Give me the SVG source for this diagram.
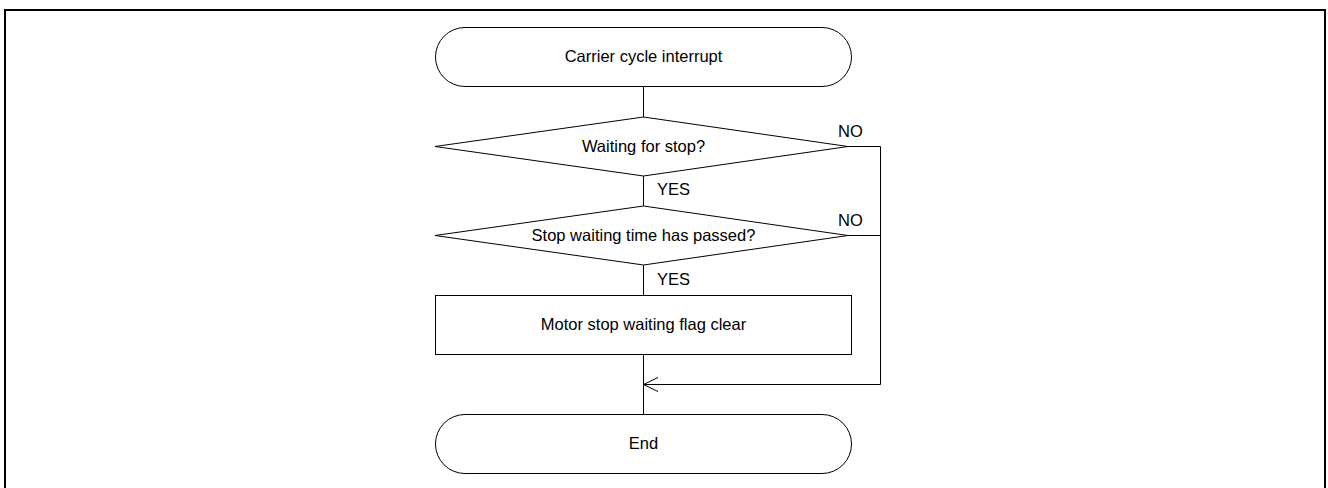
<svg xmlns="http://www.w3.org/2000/svg" width="1328" height="488" viewBox="0 0 1328 488">
<style>
.s{fill:#fff;stroke:#000;stroke-width:1}
.t{font-family:"Liberation Sans",Arial,sans-serif;font-size:16.5px;fill:#000}
.m{text-anchor:middle}
.c{fill:none;stroke:#000;stroke-width:1}
</style>
<rect x="0" y="0" width="1328" height="488" fill="#fff"/>
<rect x="5" y="10" width="1320" height="490" fill="none" stroke="#000" stroke-width="2"/>
<g id="connectors">
<path class="c" d="M643.5 87V117M643.5 176V206M643.5 265V295M643.5 354V414"/>
<path class="c" d="M848 146.5H880.5V384.5H643.5"/>
<path class="c" d="M848 235.5H880.5"/>
<path class="c" d="M658 377.5L643.5 384.5L658 391.5"/>
<text class="t" x="838" y="137">NO</text>
<text class="t" x="838" y="226">NO</text>
<text class="t" x="657" y="195">YES</text>
<text class="t" x="657" y="285">YES</text>
</g>
<g id="start">
<rect class="s" x="435.5" y="27.5" width="416" height="59" rx="29.5"/>
<text class="t m" x="643.5" y="62">Carrier cycle interrupt</text>
</g>
<g id="d1">
<polygon class="s" points="643.5,117 848,146.5 643.5,176 435,146.5"/>
<text class="t m" x="643.5" y="152">Waiting for stop?</text>
</g>
<g id="d2">
<polygon class="s" points="643.5,206 848,235.5 643.5,265 435,235.5"/>
<text class="t m" x="643.5" y="240.5">Stop waiting time has passed?</text>
</g>
<g id="p1">
<rect class="s" x="435.5" y="295.5" width="416" height="59"/>
<text class="t m" x="643.5" y="330">Motor stop waiting flag clear</text>
</g>
<g id="end">
<rect class="s" x="435.5" y="414.5" width="416" height="59" rx="29.5"/>
<text class="t m" x="643.5" y="449">End</text>
</g>
</svg>
